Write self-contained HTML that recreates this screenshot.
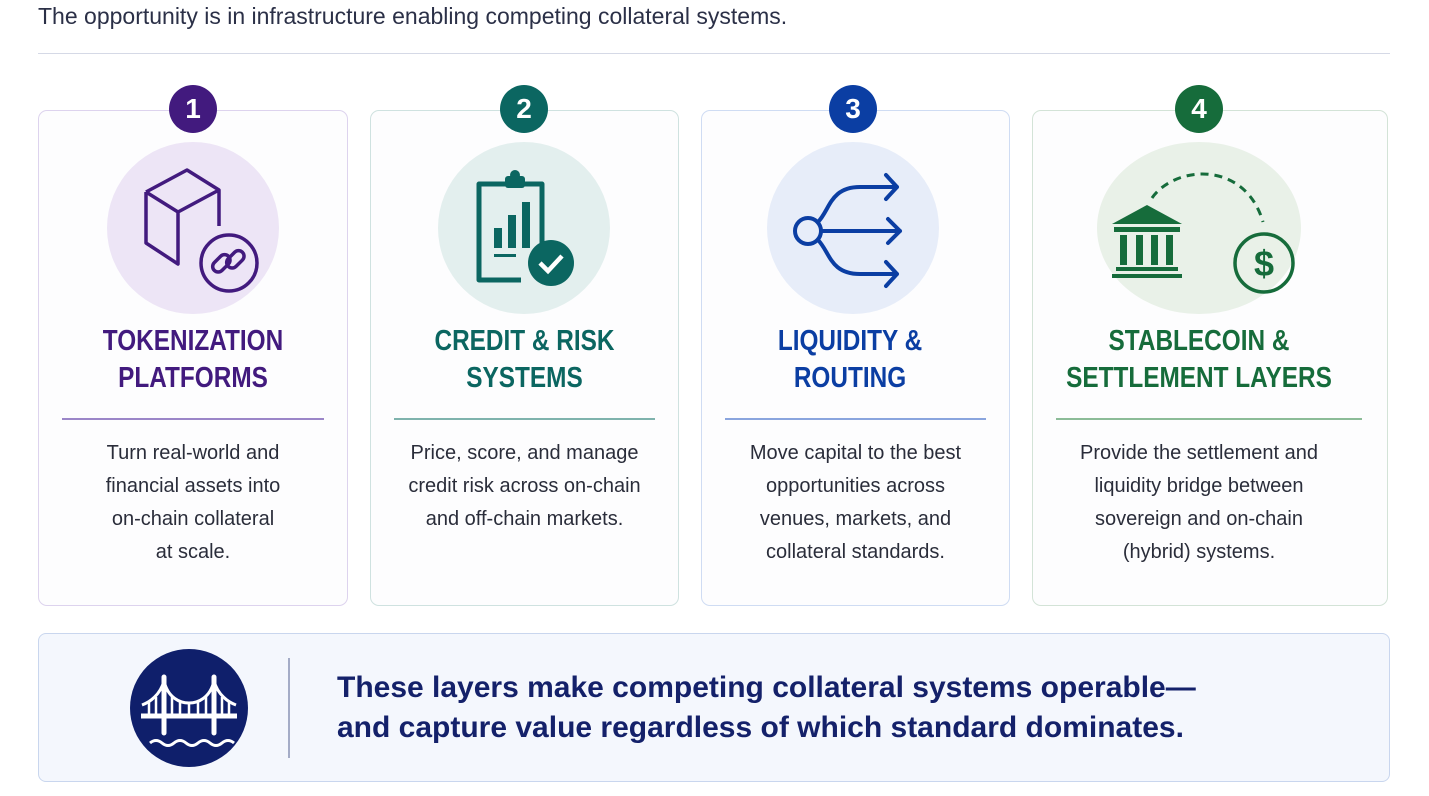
<!DOCTYPE html>
<html><head><meta charset="utf-8"><style>
*{margin:0;padding:0;box-sizing:border-box}
body{width:1429px;height:796px;background:#fff;position:relative;overflow:hidden;font-family:"Liberation Sans",sans-serif;color:#2a2f45}
.hdr{position:absolute;left:38px;top:3px;font-size:23px;color:#2b3047}
.rule{position:absolute;left:38px;top:53px;width:1352px;height:1px;background:#d5d9e6}
.card{position:absolute;top:110px;height:496px;border:1.5px solid;border-radius:9px;background:#fdfdfe}
.badge{position:absolute;top:85px;width:48px;height:48px;border-radius:50%;color:#fff;font-weight:bold;font-size:28px;text-align:center;line-height:48px}
.ic{position:absolute;top:142px;width:172px;height:172px;border-radius:50%}
.tt{position:absolute;top:323px;font-weight:bold;font-size:29px;line-height:37px;text-align:center;transform:scaleX(0.84);transform-origin:center}
.dv{position:absolute;top:418px;height:1.5px}
.bd{position:absolute;top:437px;font-size:20px;line-height:33px;text-align:center;color:#2a2d3a}
.box{position:absolute;left:38px;top:633px;width:1352px;height:149px;background:#f4f7fd;border:1.5px solid #c9d6ee;border-radius:8px}
</style></head><body>
<div class="hdr">The opportunity is in infrastructure enabling competing collateral systems.</div>
<div class="rule"></div>

<div class="card" style="left:38px;width:310px;border-color:#ddd3ee"></div>
<div class="card" style="left:370px;width:309px;border-color:#cfe2e0"></div>
<div class="card" style="left:701px;width:309px;border-color:#cfdcf3"></div>
<div class="card" style="left:1032px;width:356px;border-color:#d3e3d7"></div>
<div class="box"></div>

<div class="badge" style="left:169px;background:#421a7e">1</div>
<div class="badge" style="left:500px;background:#0b6661">2</div>
<div class="badge" style="left:829px;background:#0b3ea3">3</div>
<div class="badge" style="left:1175px;background:#166c3b">4</div>

<div class="ic" style="left:107px;background:#ede5f6"></div>
<div class="ic" style="left:438px;background:#e3efee"></div>
<div class="ic" style="left:767px;background:#e7edf9"></div>
<div class="ic" style="left:1097px;width:204px;background:#e9f1e8"></div>

<svg style="position:absolute;left:0;top:0" width="1429" height="796">
 <g fill="none" stroke="#421a7e" stroke-width="3.5" stroke-linejoin="round">
  <path d="M146 192 L187 170 L219 190 L219 226 M146 192 L178 212 L219 190 M146 192 L146 243 L178 264 L178 212"/>
  <circle cx="229" cy="263" r="28"/>
  <rect x="211" y="258" width="20" height="11" rx="5.5" transform="rotate(-45 221 263)"/>
  <rect x="225" y="254" width="20" height="11" rx="5.5" transform="rotate(-45 235 259)"/>
 </g>
 <g>
  <path d="M521 280 H479 V184 H542 V243" fill="none" stroke="#0b6661" stroke-width="5" stroke-linejoin="round"/>
  <rect x="505" y="176" width="20" height="12" rx="3" fill="#0b6661"/>
  <circle cx="515" cy="175" r="5" fill="#0b6661"/>
  <g fill="#0b6661">
  <rect x="494" y="228" width="8" height="20"/><rect x="508" y="215" width="8" height="33"/><rect x="522" y="202" width="8" height="46"/>
  <rect x="494" y="254" width="22" height="3"/>
  <circle cx="551" cy="263" r="23"/>
  </g>
  <path d="M540 263 l8 8 l14 -15" stroke="#fff" stroke-width="4.5" fill="none"/>
 </g>
 <g fill="none" stroke="#0b3ea3" stroke-width="4" stroke-linecap="round" stroke-linejoin="round">
  <circle cx="808" cy="231" r="13"/>
  <path d="M821 231 H900 M888 219 L900 231 L888 243"/>
  <path d="M818 222 C830 210 830 187 860 187 H897 M886 175 L897 187 L886 199"/>
  <path d="M818 240 C830 252 830 274 860 274 H897 M886 262 L897 274 L886 286"/>
 </g>
 <g fill="#166c3b">
  <path d="M1112 224 L1147 205 L1182 224 Z"/>
  <rect x="1114" y="227" width="66" height="5"/>
  <rect x="1120" y="235" width="7" height="30"/><rect x="1136" y="235" width="7" height="30"/><rect x="1151" y="235" width="7" height="30"/><rect x="1166" y="235" width="7" height="30"/>
  <rect x="1116" y="267" width="62" height="4"/><rect x="1112" y="274" width="70" height="4"/>
  <path d="M1152 198 C1175 165 1245 160 1263 222" fill="none" stroke="#166c3b" stroke-width="3" stroke-dasharray="8 6"/>
  <circle cx="1264" cy="263" r="29" fill="none" stroke="#166c3b" stroke-width="3.5"/>
  <text x="1264" y="276" font-size="36" font-weight="bold" font-family="Liberation Sans" text-anchor="middle">$</text>
 </g>
 <circle cx="189" cy="708" r="59" fill="#0f1f6b"/>
 <g stroke="#fff" fill="none">
  <path d="M141 716 H237" stroke-width="5"/>
  <path d="M164 677 V733 M214 677 V733" stroke-width="5" stroke-linecap="round"/>
  <path d="M164 681 C168 698 180 703 189 703 C198 703 210 698 214 681" stroke-width="3"/>
  <path d="M164 681 C160 695 150 702 142 705 M214 681 C218 695 228 702 236 705" stroke-width="3"/>
  <path d="M172 697 V716 M180 701 V716 M189 703 V716 M198 701 V716 M206 697 V716 M149 702 V716 M156 697 V716 M222 697 V716 M229 702 V716" stroke-width="2.5"/>
  <path d="M150 743 q6 -5 12 0 t12 0 t12 0 t12 0 t12 0 t12 0 t12 0" stroke-width="3"/>
 </g>
 <line x1="289" y1="658" x2="289" y2="758" stroke="#8a93b5" stroke-width="1.5"/>
</svg>

<div class="tt" style="left:38px;width:310px;color:#421a7e">TOKENIZATION<br>PLATFORMS</div>
<div class="tt" style="left:370px;width:309px;color:#0b6661">CREDIT &amp; RISK<br>SYSTEMS</div>
<div class="tt" style="left:701px;width:298px;color:#0b3ea3">LIQUIDITY &amp;<br>ROUTING</div>
<div class="tt" style="left:1032px;width:334px;color:#166c3b">STABLECOIN &amp;<br>SETTLEMENT LAYERS</div>

<div class="dv" style="left:62px;width:262px;background:#9b86c8"></div>
<div class="dv" style="left:394px;width:261px;background:#7fb3ad"></div>
<div class="dv" style="left:725px;width:261px;background:#8aa5de"></div>
<div class="dv" style="left:1056px;width:306px;background:#8cbc98"></div>

<div class="bd" style="left:38px;width:310px">Turn real-world and<br>financial assets into<br>on-chain collateral<br>at scale.</div>
<div class="bd" style="left:370px;width:309px">Price, score, and manage<br>credit risk across on-chain<br>and off-chain markets.</div>
<div class="bd" style="left:701px;width:309px">Move capital to the best<br>opportunities across<br>venues, markets, and<br>collateral standards.</div>
<div class="bd" style="left:1032px;width:334px">Provide the settlement and<br>liquidity bridge between<br>sovereign and on-chain<br>(hybrid) systems.</div>

<div style="position:absolute;left:337px;top:668px;font-size:30px;line-height:40px;font-weight:bold;color:#14216a;white-space:nowrap">These layers make competing collateral systems operable—<br>and capture value regardless of which standard dominates.</div>
</body></html>
